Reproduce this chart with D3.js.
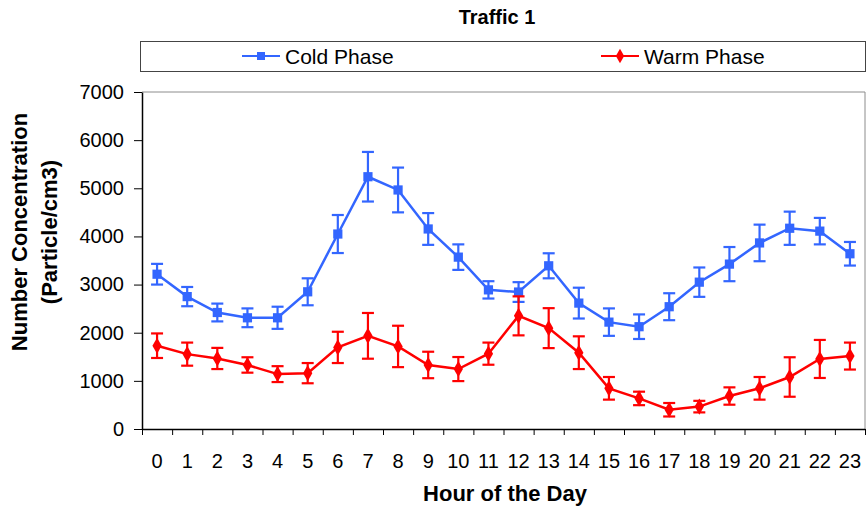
<!DOCTYPE html>
<html>
<head>
<meta charset="utf-8">
<script src="https://cdn.jsdelivr.net/npm/d3@7"></script>
<style>
  body { margin: 0; background: #fff; }
  svg { display: block; font-family: "Liberation Sans", Arial, sans-serif; }
  .axis path, .axis line { stroke: #000; }
</style>
</head>
<body>
<div id="chart"></div>
<script>
// hour of day categories
const hours = [0, 1, 2, 3, 4, 5, 6, 7, 8, 9, 10, 11, 12, 13, 14, 15, 16, 17, 18, 19, 20, 21, 22, 23];

// cold phase mean and error
const coldMean = [3215, 2750, 2420, 2310, 2310, 2850, 4050, 5240, 4965, 4155, 3570, 2890, 2845, 3390, 2615, 2220, 2125, 2540, 3050, 3425, 3865, 4170, 4110, 3640];
const coldErr = [215, 200, 185, 195, 230, 280, 395, 515, 465, 330, 265, 180, 205, 260, 320, 285, 255, 280, 305, 355, 380, 345, 275, 245];

// warm phase mean and error
const warmMean = [1730, 1555, 1465, 1330, 1140, 1160, 1695, 1935, 1715, 1330, 1245, 1565, 2350, 2095, 1585, 845, 635, 400, 465, 685, 845, 1080, 1455, 1515];
const warmErr = [255, 240, 220, 160, 165, 210, 325, 475, 430, 275, 250, 230, 405, 415, 340, 235, 140, 140, 120, 180, 235, 410, 395, 280];

const yTicks = [0, 1000, 2000, 3000, 4000, 5000, 6000, 7000];
const seriesNames = ["Cold Phase", "Warm Phase"];
const seriesColors = ["#3366ff", "#ff0000"];

const W = 867, H = 510;
const plot = { left: 142, right: 865, top: 92, bottom: 429 };

const svg = d3.select("#chart")
  .append("svg")
  .attr("width", W)
  .attr("height", H);

const x = d3.scaleBand()
  .domain(hours)
  .range([plot.left, plot.right]);

const xEdge = d3.scaleLinear()
  .domain([0, hours.length])
  .range([plot.left, plot.right]);

const y = d3.scaleLinear()
  .domain([0, 7000])
  .range([plot.bottom, plot.top]);

// frame: top and right in grey
svg.append("path")
  .attr("d", `M${plot.left},${plot.top}H${plot.right}V${plot.bottom}`)
  .attr("fill", "none")
  .attr("stroke", "#8c8c8c")
  .attr("stroke-width", 1);

// x axis labels
svg.append("g")
  .attr("class", "axis")
  .attr("transform", `translate(0,${plot.bottom})`)
  .call(d3.axisBottom(x).tickSize(0).tickPadding(25))
  .call(g => g.select(".domain").remove())
  .selectAll("text")
  .attr("font-size", 20)
  .attr("fill", "#000");

// x axis ticks at category edges
svg.append("g")
  .attr("class", "axis")
  .attr("transform", `translate(0,${plot.bottom})`)
  .call(d3.axisBottom(xEdge).tickValues(d3.range(0, hours.length + 1)).tickSize(6).tickSizeOuter(0).tickFormat(""))
  .call(g => g.select(".domain").attr("stroke-width", 1.5));

// y axis
svg.append("g")
  .attr("class", "axis")
  .attr("transform", `translate(${plot.left},0)`)
  .call(d3.axisLeft(y).tickValues(yTicks).tickFormat(d3.format("d")).tickSize(8).tickSizeOuter(0).tickPadding(10))
  .call(g => g.select(".domain").attr("stroke-width", 1.5))
  .selectAll("text")
  .attr("font-size", 20)
  .attr("fill", "#000");

// series
const series = [
  { name: seriesNames[0], color: seriesColors[0], mean: coldMean, err: coldErr, marker: d3.symbolSquare, size: 85, legendSize: 64 },
  { name: seriesNames[1], color: seriesColors[1], mean: warmMean, err: warmErr, marker: d3.symbolDiamond, size: 75, legendSize: 60 }
];

const line = d3.line()
  .x(d => x(d.h) + x.bandwidth() / 2)
  .y(d => y(d.v));

series.forEach(s => {
  const pts = hours.map((h, i) => ({ h: h, v: s.mean[i], e: s.err[i] }));
  const g = svg.append("g");

  g.append("path")
    .datum(pts)
    .attr("d", line)
    .attr("fill", "none")
    .attr("stroke", s.color)
    .attr("stroke-width", 2.5);

  const bars = g.selectAll(".err")
    .data(pts)
    .enter()
    .append("g")
    .attr("stroke", s.color)
    .attr("stroke-width", 2.2);

  bars.append("line")
    .attr("x1", d => x(d.h) + x.bandwidth() / 2)
    .attr("x2", d => x(d.h) + x.bandwidth() / 2)
    .attr("y1", d => y(d.v + d.e))
    .attr("y2", d => y(d.v - d.e));

  bars.append("line")
    .attr("x1", d => x(d.h) + x.bandwidth() / 2 - 6)
    .attr("x2", d => x(d.h) + x.bandwidth() / 2 + 6)
    .attr("y1", d => y(d.v + d.e))
    .attr("y2", d => y(d.v + d.e));

  bars.append("line")
    .attr("x1", d => x(d.h) + x.bandwidth() / 2 - 6)
    .attr("x2", d => x(d.h) + x.bandwidth() / 2 + 6)
    .attr("y1", d => y(d.v - d.e))
    .attr("y2", d => y(d.v - d.e));

  g.selectAll(".mk")
    .data(pts)
    .enter()
    .append("path")
    .attr("d", d3.symbol().type(s.marker).size(s.size))
    .attr("transform", d => `translate(${x(d.h) + x.bandwidth() / 2},${y(d.v)})`)
    .attr("fill", s.color);
});

// title
svg.append("text")
  .attr("x", 497)
  .attr("y", 24)
  .attr("text-anchor", "middle")
  .attr("font-size", 20)
  .attr("font-weight", "bold")
  .text("Traffic 1");

// legend
svg.append("rect")
  .attr("x", 140.5)
  .attr("y", 41.5)
  .attr("width", 725)
  .attr("height", 30)
  .attr("fill", "#fff")
  .attr("stroke", "#444");

const legendX = [242, 601];
series.forEach((s, i) => {
  const lg = svg.append("g").attr("transform", `translate(${legendX[i]},56)`);
  lg.append("line")
    .attr("x1", 0).attr("x2", 38)
    .attr("stroke", s.color)
    .attr("stroke-width", 2);
  lg.append("path")
    .attr("d", d3.symbol().type(s.marker).size(s.legendSize))
    .attr("transform", "translate(19,0)")
    .attr("fill", s.color);
  lg.append("text")
    .attr("x", 43)
    .attr("y", 8)
    .attr("font-size", 21)
    .text(s.name);
});

// axis titles
svg.append("text")
  .attr("x", 505)
  .attr("y", 501)
  .attr("text-anchor", "middle")
  .attr("font-size", 22)
  .attr("font-weight", "bold")
  .text("Hour of the Day");

const yl = svg.append("text")
  .attr("transform", "translate(0,232) rotate(-90)")
  .attr("text-anchor", "middle")
  .attr("font-size", 22)
  .attr("font-weight", "bold");
yl.append("tspan").attr("x", 0).attr("y", 27).text("Number Concentration");
yl.append("tspan").attr("x", 0).attr("y", 57).text("(Particle/cm3)");
</script>
</body>
</html>
